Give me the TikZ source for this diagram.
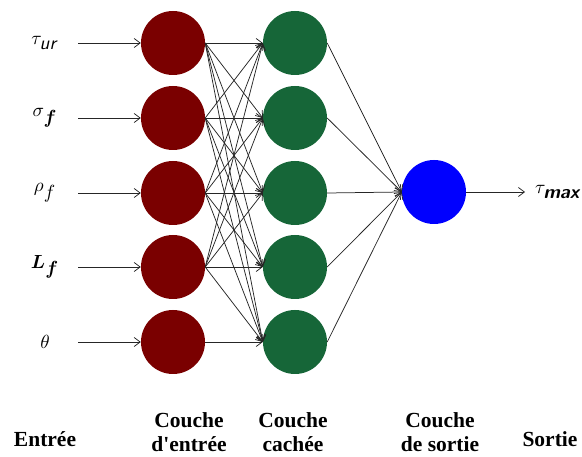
\documentclass[tikz,border=0pt]{standalone}
\usepackage{amsmath}
\usepackage{fontspec}
\setmainfont{Liberation Serif}
\usepackage{tikz}
\usetikzlibrary{arrows.meta,positioning}
\usepackage{xcolor}
\definecolor{incol}{RGB}{122,0,0}
\definecolor{hidcol}{RGB}{22,102,56}
\definecolor{outcol}{RGB}{0,0,255}
\newcommand{\varlbl}[1]{\scalebox{1.9}{#1}}
\newcommand{\bigsub}[1]{\raisebox{-1pt}{#1}}

\begin{document}
\begin{tikzpicture}[
    x=1pt, y=-1pt,
    >={Straight Barb[length=6pt,width=9pt]},
    neuron/.style={circle, inner sep=0pt, minimum size=64pt},
    inneuron/.style={neuron, fill=incol},
    hidneuron/.style={neuron, fill=hidcol},
    outneuron/.style={neuron, fill=outcol},
    arrow/.style={->, draw=black!85, line width=0.75pt},
    varnode/.style={inner sep=1pt},
    lbl/.style={font=\fontsize{21.5}{24}\selectfont\bfseries, align=center}
  ]
  \useasboundingbox (0,0) rectangle (582,457);

  % layers
  \foreach \i/\y/\t in {1/43/{$\tau_{\bigsub{\textsf{\itshape ur}}}$},
                        2/118/{$\sigma_{\bigsub{$\boldsymbol{f}$}}$},
                        3/193/{$\rho_{\bigsub{$f$}}$},
                        4/267/{$\boldsymbol{L}_{\bigsub{$\boldsymbol{f}$}}$},
                        5/342/{$\theta$}} {
    \node[inneuron] (in\i) at (173,\y) {};
    \node[hidneuron] (hid\i) at (295,\y) {};
    \node[varnode] (var\i) at (45,\y) {\varlbl{\t}};
    \coordinate (src\i) at (78,\y);
    \draw[arrow] (src\i) -- (in\i.west);
  }
  \node[outneuron] (out) at (434,192) {};
  \coordinate (dst) at (525,192);
  \node[varnode, anchor=west] (res) at (534,192) {\varlbl{$\tau_{\bigsub{\textsf{\bfseries\itshape max}}}$}};

  % connections
  \foreach \i in {1,...,4}
    \foreach \j in {1,...,5}
      \draw[arrow] (in\i.east) -- (hid\j.west);
  \draw[arrow] (in5.east) -- (hid5.west);
  \foreach \j in {1,...,5}
    \draw[arrow] (hid\j.east) -- (out.west);
  \draw[arrow] (out.east) -- (dst);

  % captions
  \node[lbl] (capin) at (45,439) {Entrée};
  \node[lbl] (capinl) at (189,432) {Couche\\d\textquotesingle entrée};
  \node[lbl] (caphid) at (293,432) {Couche\\cachée};
  \node[lbl] (capoutl) at (440,432) {Couche\\de sortie};
  \node[lbl] (capout) at (550,439) {Sortie};

\end{tikzpicture}
\end{document}
